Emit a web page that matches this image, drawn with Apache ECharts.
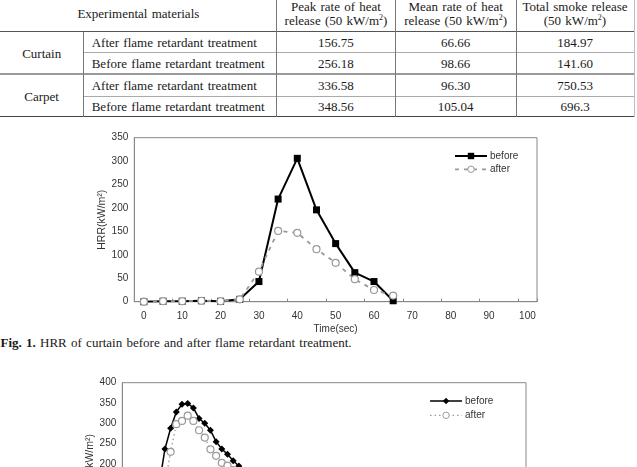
<!DOCTYPE html>
<html><head><meta charset="utf-8">
<script src="https://cdn.jsdelivr.net/npm/echarts@6/dist/echarts.min.js"></script>
<style>
html,body{margin:0;padding:0;background:#fff;}
body{width:637px;height:467px;overflow:hidden;position:relative;font-family:"Liberation Serif","Times New Roman",serif;color:#1a1a1a;}
.t{position:absolute;font-size:13px;line-height:15px;white-space:nowrap;word-spacing:1px;}
.c{text-align:center;}
.ln{position:absolute;}
sup{font-size:8px;vertical-align:5px;line-height:0;}
#c1{position:absolute;left:0;top:125px;width:637px;height:235px;}
#c2{position:absolute;left:0;top:360px;width:637px;height:250px;}
</style></head><body>
<div id="tbl"></div>
<div class="t" id="cap" style="left:0.5px;top:335px;"></div>
<div id="c1"></div>
<div id="c2"></div>
<script>
// ---------- table data ----------
const headerFirst = "Experimental materials";
const headerCols = [
  ["Peak rate of heat", "release (50 kW/m<sup>2</sup>)"],
  ["Mean rate of heat", "release (50 kW/m<sup>2</sup>)"],
  ["Total smoke release", "(50 kW/m<sup>2</sup>)"]
];
const materials = ["Curtain", "Carpet"];
const treatments = ["After flame retardant treatment", "Before flame retardant treatment",
                    "After flame retardant treatment", "Before flame retardant treatment"];
const peakHRR  = ["156.75", "256.18", "336.58", "348.56"];
const meanHRR  = ["66.66", "98.66", "96.30", "105.04"];
const totalSmoke = ["184.97", "141.60", "750.53", "696.3"];
const captionBold = "Fig. 1.";
const captionText = " HRR of curtain before and after flame retardant treatment.";

// ---------- chart 1 data (curtain) ----------
const times1 = ["0","5","10","15","20","25","30","35","40","45","50","55","60","65","70","75","80","85","90","95","100"];
const before1 = [0, 1, 1, 2, 1, 5, 43, 219, 306, 196, 124, 62, 43, 2];
const after1  = [0, 1, 1, 2, 1, 5, 64, 151, 147, 112, 83, 48, 25, 13];
const yTicks1 = { min: 0, max: 350, step: 50 };

// ---------- chart 2 data (carpet) ----------
const times2 = ["0","5","10","15","20","25","30","35","40","45","50","55","60","65","70","75","80","85","90","95",
  "100","105","110","115","120","125","130","135","140","145","150","155","160","165","170","175","180","185","190","195",
  "200","205","210","215","220","225","230","235","240","245","250","255","260","265","270","275","280","285","290","295",
  "300","305","310","315","320","325","330","335","340","345","350"];
const before2 = [0, 0, 1, 3, 10, 60, 150, 237, 288, 328, 347, 349, 338, 312, 300, 283, 255, 237, 224, 208, 195,
  184, 175, 166, 158, 150, 142, 134, 126, 118, 110, 102, 95, 88, 81, 74, 68, 62, 56, 50, 45, 40, 35, 30, 26, 22, 18, 15, 12, 9, 7, 5, 3, 2, 1, 0];
const after2  = [0, 0, 1, 2, 5, 20, 60, 150, 230, 298, 306, 319, 306, 283, 265, 236, 220, 203, 196,
  185, 172, 160, 150, 140, 130, 121, 112, 104, 96, 88, 80, 73, 66, 60, 54, 48, 42, 37, 32, 27, 23, 19, 15, 12, 9, 7, 5, 3, 2, 1, 0];
const yTicks2 = { min: 0, max: 400, step: 50 };

// ---------- build table ----------
const tbl = document.getElementById('tbl');
function txt(html, left, width, cy, center) {
  const d = document.createElement('div');
  d.className = 't' + (center ? ' c' : '');
  d.style.left = left + 'px';
  if (width) d.style.width = width + 'px';
  d.style.top = (cy - 7.5) + 'px';
  d.innerHTML = html;
  tbl.appendChild(d);
}
function hline(y, x1, x2, color, w) {
  const d = document.createElement('div');
  d.className = 'ln';
  d.style.left = x1 + 'px'; d.style.width = (x2 - x1) + 'px';
  d.style.top = (y - w / 2) + 'px'; d.style.height = w + 'px';
  d.style.background = color;
  tbl.appendChild(d);
}
function vline(x, y1, y2, color, w) {
  const d = document.createElement('div');
  d.className = 'ln';
  d.style.left = (x - w / 2) + 'px'; d.style.width = w + 'px';
  d.style.top = y1 + 'px'; d.style.height = (y2 - y1) + 'px';
  d.style.background = color;
  tbl.appendChild(d);
}
const colX = [0, 83.3, 276.7, 395.3, 516, 634];
const rowY = [31.7, 52.7, 74, 96, 116.7];
txt(headerFirst, 0, 276.7, 13.3, true);
headerCols.forEach((h, i) => {
  const l = colX[i + 2], w = colX[i + 3] - colX[i + 2];
  txt(h[0], l, w, 6, true);
  txt(h[1], l, w, 20.7, true);
});
materials.forEach((m, i) => txt(m, 0, 83.3, rowY[i * 2 + 1] + 0.5, true));
treatments.forEach((t, i) => {
  const cy = (rowY[i] + rowY[i + 1]) / 2;
  txt(t, 91.7, null, cy, false);
  txt(peakHRR[i], colX[2], colX[3] - colX[2], cy, true);
  txt(meanHRR[i], colX[3], colX[4] - colX[3], cy, true);
  txt(totalSmoke[i], colX[4], colX[5] - colX[4], cy, true);
});
hline(rowY[0], 0, 634, '#555', 1);
hline(rowY[1], 83.3, 634, '#aaa', 1);
hline(rowY[2], 0, 634, '#999', 2);
hline(rowY[3], 83.3, 634, '#aaa', 1);
hline(rowY[4], 0, 634, '#444', 1.5);
vline(83.3, rowY[0], rowY[4], '#777', 1);
vline(276.7, 0, rowY[4], '#777', 1);
vline(395.3, 0, rowY[4], '#777', 1);
vline(516, 0, rowY[4], '#777', 1);
vline(634, 0, rowY[4], '#bbb', 1);

document.getElementById('cap').innerHTML = '<b>' + captionBold + '</b>' + captionText;

// ---------- charts ----------
const FONT = 'Liberation Sans, Arial, sans-serif';
const AX = '#888', TX = '#333';

function baseAxes(times, yt, labelInterval) {
  return {
    xAxis: {
      type: 'category', data: times, boundaryGap: true,
      name: 'Time(sec)', nameLocation: 'middle', nameGap: 23, nameMoveOverlap: false,
      nameTextStyle: { fontSize: 10, color: TX, fontFamily: FONT },
      axisLine: { lineStyle: { color: AX, width: 1 } },
      axisTick: { show: true, inside: true, length: 3, interval: labelInterval, lineStyle: { color: AX } },
      axisLabel: { interval: labelInterval, fontSize: 10, color: TX, margin: 10, fontFamily: FONT },
      splitLine: { show: false }
    },
    yAxis: {
      type: 'value', min: yt.min, max: yt.max, interval: yt.step,
      name: 'HRR(kW/m²)', nameLocation: 'middle', nameGap: 27, nameMoveOverlap: false,
      nameTextStyle: { fontSize: 10.5, color: TX, fontFamily: FONT },
      axisLine: { show: true, lineStyle: { color: AX, width: 1 } },
      axisTick: { show: false },
      axisLabel: { fontSize: 10, color: TX, margin: 6, fontFamily: FONT },
      splitLine: { show: false }
    }
  };
}

// chart 1
const ch1 = echarts.init(document.getElementById('c1'));
const a1 = baseAxes(times1, yTicks1, 1);
ch1.setOption({
  animation: false,
  textStyle: { fontFamily: FONT },
  grid: { left: 134.3, top: 12.7, width: 402.7, height: 164, show: true, borderColor: AX, borderWidth: 1 },
  legend: {
    orient: 'vertical', left: 449, top: 20, itemWidth: 32, itemHeight: 8, itemGap: 1.3,
    textStyle: { fontSize: 10, color: TX, lineHeight: 12, padding: [0, 0, 0, -2], fontFamily: FONT },
    data: [
      { name: 'before', itemStyle: { color: '#000' }, lineStyle: { color: '#000', width: 2 } },
      { name: 'after', itemStyle: { color: '#fff', borderColor: '#999', borderWidth: 1 }, lineStyle: { color: '#999', width: 1.8, type: [4, 5] } }
    ]
  },
  xAxis: a1.xAxis, yAxis: a1.yAxis,
  series: [
    { name: 'before', type: 'line', data: before1, symbol: 'rect', symbolSize: 7, showAllSymbol: true,
      lineStyle: { color: '#000', width: 2 }, itemStyle: { color: '#000' } },
    { name: 'after', type: 'line', data: after1, symbol: 'circle', symbolSize: 7, showAllSymbol: true,
      lineStyle: { color: '#999', width: 1.8, type: [4, 5] },
      itemStyle: { color: '#fff', borderColor: '#999', borderWidth: 1.2 } }
  ]
});

// chart 2
const ch2 = echarts.init(document.getElementById('c2'));
const a2 = baseAxes(times2, yTicks2, 9);
ch2.setOption({
  animation: false,
  textStyle: { fontFamily: FONT },
  grid: { left: 122.3, top: 22.7, width: 403.7, height: 162.6, show: true, borderColor: AX, borderWidth: 1 },
  legend: {
    orient: 'vertical', left: 424.3, top: 30, itemWidth: 32, itemHeight: 8, itemGap: 2.3,
    textStyle: { fontSize: 10, color: TX, lineHeight: 12, padding: [0, 0, 0, -2], fontFamily: FONT },
    data: [
      { name: 'before', itemStyle: { color: '#000' }, lineStyle: { color: '#000', width: 1.5 } },
      { name: 'after', itemStyle: { color: '#fff', borderColor: '#999', borderWidth: 1 }, lineStyle: { color: '#999', width: 1.3, type: [1.5, 3] } }
    ]
  },
  xAxis: a2.xAxis, yAxis: a2.yAxis,
  series: [
    { name: 'before', type: 'line', data: before2, symbol: 'diamond', symbolSize: 7, showAllSymbol: true,
      lineStyle: { color: '#000', width: 1.5 }, itemStyle: { color: '#000' } },
    { name: 'after', type: 'line', data: after2, symbol: 'circle', symbolSize: 7, showAllSymbol: true,
      lineStyle: { color: '#999', width: 1.3, type: [1.5, 3] },
      itemStyle: { color: '#fff', borderColor: '#999', borderWidth: 1.2 } }
  ]
});
</script>
</body></html>
